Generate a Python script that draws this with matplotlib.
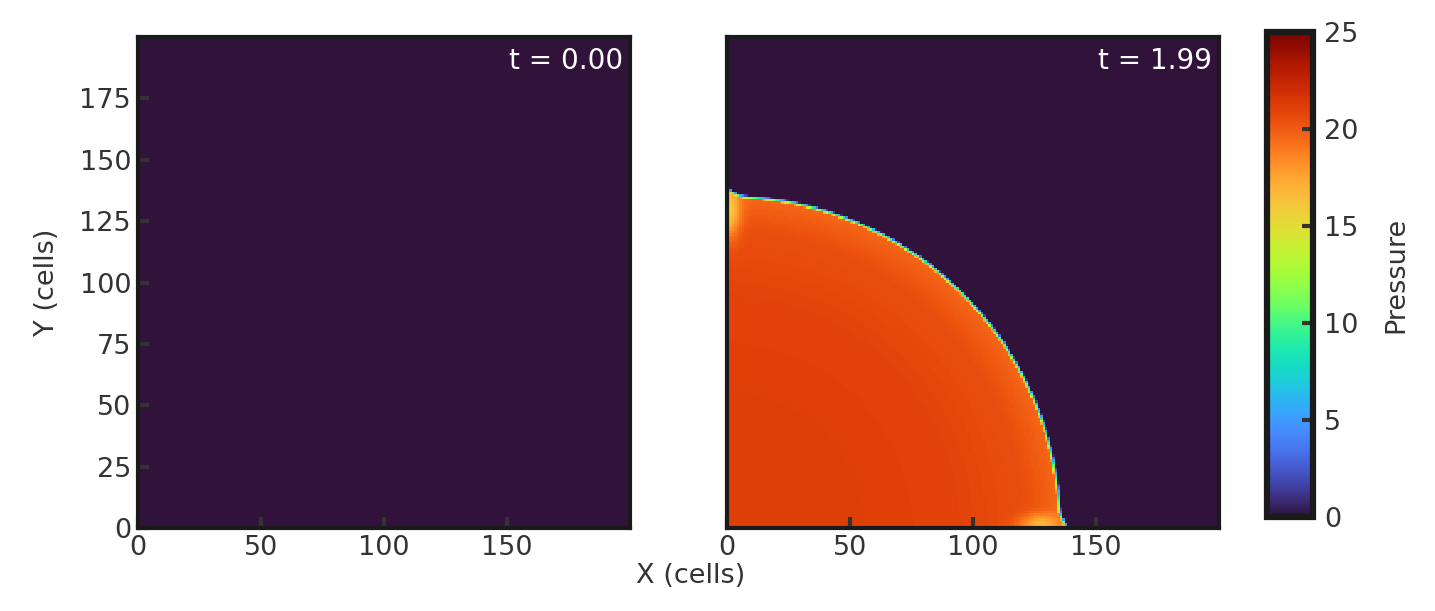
import numpy as np
import matplotlib
matplotlib.use("Agg")
import matplotlib.pyplot as plt

# ---- data ----
nx, ny = 200, 200
times = [0.00, 1.99]
x_ticks = [0, 50, 100, 150]
y_ticks = [0, 25, 50, 75, 100, 125, 150, 175]
cbar_ticks = [0, 5, 10, 15, 20, 25]
p_min, p_max = 0.0, 25.0
p_ambient = 0.0

# blast wave at t=1.99: front radius (cells) and axis bump
front_radius = 135.0
axis_bump = 2.5
axis_bump_width = 4.0
front_width = 1.6
# radial pressure profile behind the front (r / R_front -> pressure)
profile_r = [0.0, 0.4, 0.7, 0.9, 0.97, 1.0]
profile_p = [21.1, 21.1, 20.9, 20.4, 19.8, 19.5]
# lighter spots near the symmetry axes: (x, y, sx, sy, dp)
spots = [(0.5, 129.0, 4.5, 10.0, -4.5),
         (127.0, 1.5, 8.0, 4.0, -3.5)]

# ---- build fields ----
xc = np.arange(nx) + 0.5
yc = np.arange(ny) + 0.5
X, Y = np.meshgrid(xc, yc)
R = np.hypot(X, Y)
d_axis = np.minimum(X, Y)
Rf = front_radius + axis_bump * np.exp(-(d_axis / axis_bump_width) ** 2)
inner = np.interp(R / Rf, profile_r, profile_p)
for sx0, sy0, sx, sy, dp in spots:
    inner = inner + dp * np.exp(-((X - sx0) / sx) ** 2 - ((Y - sy0) / sy) ** 2)
w = np.clip((Rf - R) / front_width + 0.5, 0, 1)
field1 = p_ambient + w * (inner - p_ambient)
field0 = np.full((ny, nx), p_ambient)
fields = [field0, field1]

# ---- figure ----
text_c = "#333333"
fs = 19.5
plt.rcParams.update({
    "font.family": "DejaVu Sans",
    "font.size": fs,
    "text.color": text_c,
    "axes.labelcolor": text_c,
    "xtick.color": text_c,
    "ytick.color": text_c,
})

fig = plt.figure(figsize=(14.35, 6.11), dpi=100)
ax_pos = [[0.0962, 0.1358, 0.3429, 0.8036],
          [0.5066, 0.1358, 0.3429, 0.8036]]
axes = [fig.add_axes(p) for p in ax_pos]
cax = fig.add_axes([0.8829, 0.1538, 0.0321, 0.7938])

im = None
for i, (ax, f, t) in enumerate(zip(axes, fields, times)):
    im = ax.imshow(f, origin="lower", extent=[0, nx, 0, ny], cmap="turbo",
                   vmin=p_min, vmax=p_max, interpolation="nearest", aspect="auto")
    ax.set_xlim(0, nx)
    ax.set_ylim(0, ny)
    for s in ax.spines.values():
        s.set_linewidth(3.0)
        s.set_color("#1a1a1a")
    ax.set_xticks(x_ticks)
    ax.set_yticks(y_ticks)
    ax.tick_params(direction="in", length=8, width=3.0, colors=text_c,
                   labelsize=fs, pad=5)
    if i == 1:
        ax.set_yticklabels([])
        ax.tick_params(axis="y", length=0)
    ax.text(0.985, 0.98, f"t = {t:.2f}", transform=ax.transAxes, ha="right",
            va="top", color="white", fontsize=20)

axes[0].set_ylabel("Y (cells)", fontsize=fs, labelpad=14)
fig.text(0.481, 0.058, "X (cells)", ha="center", va="center", fontsize=fs)

cb = fig.colorbar(im, cax=cax, ticks=cbar_ticks)
cb.outline.set_linewidth(4.5)
cb.outline.set_edgecolor("#1a1a1a")
cax.tick_params(direction="in", length=8, width=3.0, colors=text_c,
                labelsize=fs, pad=8)
cb.set_label("Pressure", fontsize=fs, labelpad=18)

fig.savefig("out.png", dpi=100)
